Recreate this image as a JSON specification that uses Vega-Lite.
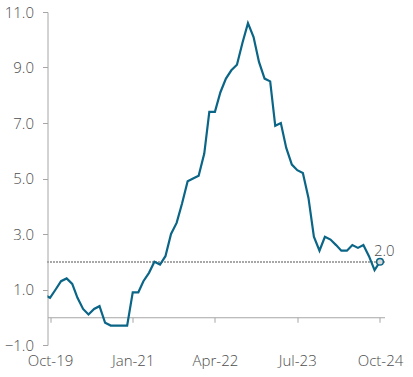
{
  "$schema": "https://vega.github.io/schema/vega-lite/v6.json",
  "width": 337,
  "height": 333,
  "autosize": {"type": "none"},
  "padding": {"left": 47.5, "top": 12, "right": 28.5, "bottom": 32},
  "background": "white",
  "config": {
    "view": {"stroke": null},
    "font": "Open Sans",
    "axis": {"labelFont": "Open Sans", "labelFontWeight": 300, "labelColor": "#4d4d4d", "labelFontSize": 15, "domainColor": "#a6a6a6", "tickColor": "#a6a6a6", "grid": false, "title": null}
  },
  "data": {
    "format": {"parse": {"date": "utc:'%Y-%m-%d'"}},
    "values": [
      {"date": "2019-09-01", "value": 0.8},
      {"date": "2019-10-01", "value": 0.7},
      {"date": "2019-11-01", "value": 1.0},
      {"date": "2019-12-01", "value": 1.3},
      {"date": "2020-01-01", "value": 1.4},
      {"date": "2020-02-01", "value": 1.2},
      {"date": "2020-03-01", "value": 0.7},
      {"date": "2020-04-01", "value": 0.3},
      {"date": "2020-05-01", "value": 0.1},
      {"date": "2020-06-01", "value": 0.3},
      {"date": "2020-07-01", "value": 0.4},
      {"date": "2020-08-01", "value": -0.2},
      {"date": "2020-09-01", "value": -0.3},
      {"date": "2020-10-01", "value": -0.3},
      {"date": "2020-11-01", "value": -0.3},
      {"date": "2020-12-01", "value": -0.3},
      {"date": "2021-01-01", "value": 0.9},
      {"date": "2021-02-01", "value": 0.9},
      {"date": "2021-03-01", "value": 1.3},
      {"date": "2021-04-01", "value": 1.6},
      {"date": "2021-05-01", "value": 2.0},
      {"date": "2021-06-01", "value": 1.9},
      {"date": "2021-07-01", "value": 2.2},
      {"date": "2021-08-01", "value": 3.0},
      {"date": "2021-09-01", "value": 3.4},
      {"date": "2021-10-01", "value": 4.1},
      {"date": "2021-11-01", "value": 4.9},
      {"date": "2021-12-01", "value": 5.0},
      {"date": "2022-01-01", "value": 5.1},
      {"date": "2022-02-01", "value": 5.9},
      {"date": "2022-03-01", "value": 7.4},
      {"date": "2022-04-01", "value": 7.4},
      {"date": "2022-05-01", "value": 8.1},
      {"date": "2022-06-01", "value": 8.6},
      {"date": "2022-07-01", "value": 8.9},
      {"date": "2022-08-01", "value": 9.1},
      {"date": "2022-09-01", "value": 9.9},
      {"date": "2022-10-01", "value": 10.6},
      {"date": "2022-11-01", "value": 10.1},
      {"date": "2022-12-01", "value": 9.2},
      {"date": "2023-01-01", "value": 8.6},
      {"date": "2023-02-01", "value": 8.5},
      {"date": "2023-03-01", "value": 6.9},
      {"date": "2023-04-01", "value": 7.0},
      {"date": "2023-05-01", "value": 6.1},
      {"date": "2023-06-01", "value": 5.5},
      {"date": "2023-07-01", "value": 5.3},
      {"date": "2023-08-01", "value": 5.2},
      {"date": "2023-09-01", "value": 4.3},
      {"date": "2023-10-01", "value": 2.9},
      {"date": "2023-11-01", "value": 2.4},
      {"date": "2023-12-01", "value": 2.9},
      {"date": "2024-01-01", "value": 2.8},
      {"date": "2024-02-01", "value": 2.6},
      {"date": "2024-03-01", "value": 2.4},
      {"date": "2024-04-01", "value": 2.4},
      {"date": "2024-05-01", "value": 2.6},
      {"date": "2024-06-01", "value": 2.5},
      {"date": "2024-07-01", "value": 2.6},
      {"date": "2024-08-01", "value": 2.2},
      {"date": "2024-09-01", "value": 1.7},
      {"date": "2024-10-01", "value": 2.0}
    ]
  },
  "layer": [
    {
      "mark": {"type": "rule", "color": "#a6a6a6", "strokeWidth": 1, "strokeDash": [1, 2]},
      "encoding": {"y": {"datum": 2}}
    },
    {
      "mark": {"type": "line", "color": "#0b6586", "strokeWidth": 2.2, "clip": true},
      "encoding": {
        "x": {
          "field": "date",
          "type": "temporal",
          "scale": {"type": "utc", "domain": [{"year": 2019, "month": 9, "date": 17, "utc": true}, {"year": 2024, "month": 10, "date": 26, "utc": true}], "nice": false},
          "axis": {
            "offset": -27.75,
            "values": [
              {"year": 2019, "month": 10, "date": 1, "utc": true},
              {"year": 2021, "month": 1, "date": 1, "utc": true},
              {"year": 2022, "month": 4, "date": 1, "utc": true},
              {"year": 2023, "month": 7, "date": 1, "utc": true},
              {"year": 2024, "month": 10, "date": 1, "utc": true}
            ],
            "format": "%b-%y",
            "tickSize": 5,
            "labelPadding": 31,
            "labelFlush": false,
            "labelOverlap": false
          }
        },
        "y": {
          "field": "value",
          "type": "quantitative",
          "scale": {"domain": [-1, 11], "nice": false, "zero": false},
          "axis": {"values": [-1, 1, 3, 5, 7, 9, 11], "format": ".1f", "tickSize": 5, "labelPadding": 9}
        }
      }
    },
    {
      "transform": [{"filter": "utcyear(datum.date) == 2024 && utcmonth(datum.date) == 9"}],
      "mark": {"type": "point", "filled": true, "fill": "#d9d9d9", "stroke": "#0b6586", "strokeWidth": 1.5, "size": 45, "opacity": 1},
      "encoding": {
        "x": {"field": "date", "type": "temporal"},
        "y": {"field": "value", "type": "quantitative"}
      }
    },
    {
      "transform": [{"filter": "utcyear(datum.date) == 2024 && utcmonth(datum.date) == 9"}],
      "mark": {"type": "text", "align": "left", "baseline": "middle", "dx": -6, "dy": -11, "font": "Open Sans", "fontWeight": 300, "fontSize": 15, "color": "#4d4d4d"},
      "encoding": {
        "x": {"field": "date", "type": "temporal"},
        "y": {"field": "value", "type": "quantitative"},
        "text": {"field": "value", "type": "quantitative", "format": ".1f"}
      }
    }
  ]
}
